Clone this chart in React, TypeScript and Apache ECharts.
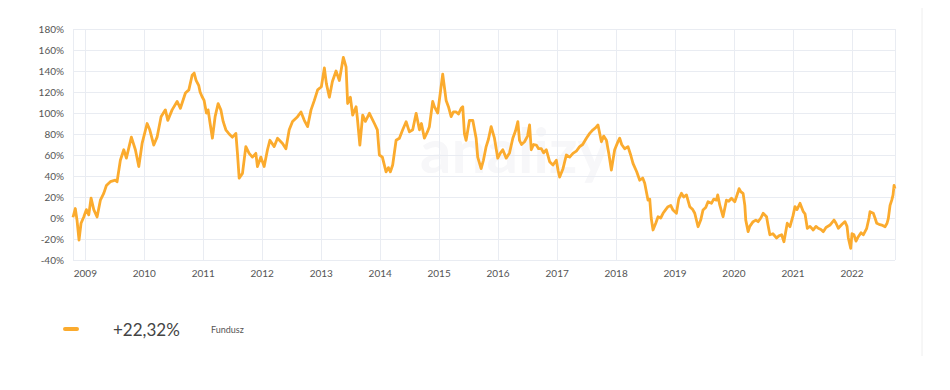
import React, { useEffect, useRef } from "react";
import * as echarts from "echarts";

// Time positions as decimal years, and fund return (%)
const years: number[] = [
  2008.791, 2008.830, 2008.859, 2008.893, 2008.927, 2008.973, 2009.017, 2009.058, 2009.097, 2009.143,
  2009.199, 2009.255, 2009.312, 2009.357, 2009.424, 2009.509, 2009.538, 2009.594, 2009.652, 2009.696,
  2009.781, 2009.849, 2009.907, 2009.963, 2010.048, 2010.093, 2010.161, 2010.217, 2010.285, 2010.358,
  2010.399, 2010.472, 2010.557, 2010.613, 2010.698, 2010.756, 2010.812, 2010.846, 2010.879, 2010.925,
  2010.947, 2010.981, 2011.015, 2011.054, 2011.083, 2011.117, 2011.156, 2011.202, 2011.253, 2011.299,
  2011.338, 2011.384, 2011.440, 2011.496, 2011.554, 2011.581, 2011.610, 2011.666, 2011.723, 2011.779,
  2011.835, 2011.893, 2011.920, 2011.978, 2012.034, 2012.090, 2012.131, 2012.204, 2012.260, 2012.345,
  2012.402, 2012.458, 2012.514, 2012.599, 2012.657, 2012.713, 2012.769, 2012.827, 2012.883, 2012.939,
  2013.002, 2013.053, 2013.087, 2013.138, 2013.189, 2013.251, 2013.307, 2013.341, 2013.375, 2013.421,
  2013.448, 2013.494, 2013.533, 2013.591, 2013.613, 2013.655, 2013.703, 2013.749, 2013.817, 2013.902,
  2013.952, 2013.986, 2014.037, 2014.100, 2014.139, 2014.173, 2014.212, 2014.270, 2014.326, 2014.382,
  2014.440, 2014.496, 2014.552, 2014.610, 2014.666, 2014.700, 2014.750, 2014.801, 2014.835, 2014.891,
  2014.920, 2014.976, 2015.022, 2015.061, 2015.119, 2015.158, 2015.204, 2015.243, 2015.289, 2015.328,
  2015.374, 2015.401, 2015.430, 2015.458, 2015.515, 2015.571, 2015.628, 2015.655, 2015.713, 2015.752,
  2015.798, 2015.837, 2015.883, 2015.939, 2015.995, 2016.041, 2016.080, 2016.138, 2016.194, 2016.250,
  2016.296, 2016.335, 2016.363, 2016.397, 2016.448, 2016.499, 2016.533, 2016.562, 2016.601, 2016.647,
  2016.686, 2016.732, 2016.771, 2016.817, 2016.873, 2016.929, 2016.986, 2017.017, 2017.043, 2017.099,
  2017.156, 2017.212, 2017.268, 2017.331, 2017.382, 2017.433, 2017.496, 2017.552, 2017.608, 2017.654,
  2017.693, 2017.751, 2017.790, 2017.836, 2017.875, 2017.920, 2017.976, 2018.027, 2018.061, 2018.095,
  2018.146, 2018.202, 2018.248, 2018.287, 2018.350, 2018.401, 2018.452, 2018.486, 2018.542, 2018.571,
  2018.596, 2018.627, 2018.673, 2018.712, 2018.757, 2018.797, 2018.842, 2018.881, 2018.927, 2018.966,
  2019.024, 2019.063, 2019.109, 2019.148, 2019.194, 2019.250, 2019.301, 2019.335, 2019.391, 2019.436,
  2019.475, 2019.521, 2019.560, 2019.618, 2019.657, 2019.703, 2019.725, 2019.759, 2019.815, 2019.873,
  2019.912, 2019.958, 2020.014, 2020.065, 2020.087, 2020.116, 2020.155, 2020.184, 2020.200, 2020.240,
  2020.268, 2020.324, 2020.370, 2020.409, 2020.455, 2020.494, 2020.552, 2020.574, 2020.608, 2020.659,
  2020.722, 2020.761, 2020.807, 2020.846, 2020.880, 2020.902, 2020.948, 2020.999, 2021.033, 2021.067,
  2021.118, 2021.174, 2021.203, 2021.242, 2021.288, 2021.343, 2021.389, 2021.428, 2021.474, 2021.513,
  2021.559, 2021.627, 2021.695, 2021.729, 2021.768, 2021.831, 2021.882, 2021.916, 2021.938, 2021.979,
  2022.000, 2022.034, 2022.068, 2022.107, 2022.153, 2022.192, 2022.250, 2022.289, 2022.306, 2022.362,
  2022.391, 2022.420, 2022.459, 2022.505, 2022.561, 2022.595, 2022.617, 2022.646, 2022.675, 2022.697,
  2022.714, 2022.730,
];

const values: number[] = [
  0.7, 9, -2, -21, -5, 1, 8, 3, 19, 8,
  1, 17, 23.5, 31, 34.6, 36, 34.5, 55, 65, 57,
  77, 65, 49, 71, 90, 84, 69.5, 77, 96.5, 103,
  93, 103, 111, 104.5, 119, 122, 136, 138, 131, 126,
  120, 115.5, 112, 100, 103, 90, 76, 96.5, 109, 103,
  92, 84, 80, 77, 80.6, 61.6, 38, 42.5, 68, 61.6,
  58, 61.6, 49, 58, 49, 65, 74, 68, 76, 71,
  66, 84, 92, 96.5, 101, 93, 87, 103, 112, 122,
  125, 143, 128, 115, 130, 140, 131, 142, 153, 144,
  109, 115, 98, 106, 95, 69.5, 98, 92, 99.7, 90,
  84, 60, 58, 44, 48, 44, 50.5, 74, 76, 84,
  91.7, 82, 84, 99.7, 84, 90, 76, 82, 87, 111,
  106, 100, 120, 137, 112, 106, 96.5, 101, 101, 99,
  104.5, 106, 80, 74, 93, 93, 76, 58, 47, 55,
  68, 75, 87, 76, 57, 62, 65, 57, 62, 76,
  83, 91.7, 74, 70, 72.6, 78, 88.6, 65, 70, 69.5,
  66, 66, 62, 65, 53.6, 50.5, 55, 45, 39, 47,
  60, 58, 61.6, 64, 68, 70, 76, 80.6, 84, 86,
  88.6, 72.6, 78, 74, 62, 45.7, 65, 72, 76, 70,
  66, 68, 60, 52, 44, 36, 38, 33, 17, 18,
  0, -11.4, -5, 1.2, 0, 4.5, 8, 10.8, 12, 7.6,
  4.5, 18, 23.5, 20, 22, 10.8, 8, 4.5, -8.3, -2,
  7.6, 10, 15.5, 14, 18, 17, 22, 12.4, 1.2, 17,
  16, 18.8, 15.5, 24, 28, 25, 23.5, 12, -2, -13,
  -8, -3.5, -2, -3.5, 0, 4.5, 1.2, -6, -16, -15,
  -19, -17, -16, -22.6, -12, -5, -8.3, 2, 10.8, 8,
  14, 6, 4, -9.8, -8, -11.4, -8, -9.8, -11, -13,
  -9, -6.7, -2, -5, -9.8, -6, -3.5, -8, -19, -29,
  -15, -16, -22, -17.8, -14, -16, -9.8, 0, 6, 4.5,
  0, -5, -6, -6.7, -8.3, -5, -0.3, 12, 17, 22,
  31, 28,
];

const yTicks = { min: -40, max: 180, step: 20 };
const legendValue = "+22,32%";
const legendName = "Fundusz";
const lineColor = "#FBAB2E";

function yearToTs(y: number): number {
  const Y = Math.floor(y);
  const start = Date.UTC(Y, 0, 1);
  const end = Date.UTC(Y + 1, 0, 1);
  return start + (y - Y) * (end - start);
}

export default function App() {
  const ref = useRef<HTMLDivElement>(null);
  useEffect(() => {
    if (!ref.current) return;
    const chart = echarts.init(ref.current, undefined, { renderer: "svg" });
    const data = years.map((y, i) => [yearToTs(y), values[i]]);
    const YEAR = 365.25 * 24 * 3600 * 1000;
    chart.setOption({
      animation: false,
      backgroundColor: "#ffffff",
      grid: { left: 73, right: 55, top: 29, bottom: 130, containLabel: false },
      xAxis: {
        type: "time",
        min: data[0][0],
        max: data[data.length - 1][0],
        minInterval: YEAR,
        maxInterval: YEAR,
        axisLine: { show: false },
        axisTick: { show: false },
        splitLine: { show: true, lineStyle: { color: "#e9ecf2", width: 1 } },
        axisLabel: {
          formatter: "{yyyy}",
          color: "#555",
          fontFamily: "Lato",
          fontSize: 10,
          margin: 8,
          showMinLabel: false,
          showMaxLabel: false,
        },
      },
      yAxis: {
        type: "value",
        min: yTicks.min,
        max: yTicks.max,
        interval: yTicks.step,
        axisLine: { show: false },
        axisTick: { show: false },
        splitLine: { lineStyle: { color: "#e9ecf2", width: 1 } },
        axisLabel: {
          formatter: "{value}%",
          color: "#555",
          fontFamily: "Lato",
          fontSize: 10,
          margin: 9,
        },
      },
      graphic: [
        {
          type: "text",
          left: 420,
          top: 118,
          z: -1,
          silent: true,
          style: { text: "analizy", fontSize: 62, fontFamily: "Lato", fontWeight: "bold", fill: "#f7f7f9" },
        },
        {
          type: "line",
          shape: { x1: 922, y1: 0, x2: 922, y2: 356 },
          style: { stroke: "#eeeeee", lineWidth: 1 },
        },
        {
          type: "line",
          shape: { x1: 65, y1: 329, x2: 77, y2: 329 },
          style: { stroke: lineColor, lineWidth: 4, lineCap: "round" },
        },
        {
          type: "text",
          x: 113,
          y: 329,
          style: {
            text: legendValue,
            fontSize: 17,
            fontFamily: "Lato",
            fill: "#444",
            verticalAlign: "middle",
          },
        },
        {
          type: "text",
          x: 211,
          y: 329,
          style: {
            text: legendName,
            fontSize: 9,
            fontFamily: "Lato",
            fill: "#555",
            verticalAlign: "middle",
          },
        },
      ],
      series: [
        {
          type: "line",
          data,
          showSymbol: false,
          symbol: "none",
          lineStyle: { color: lineColor, width: 2.8, join: "round" },
          itemStyle: { color: lineColor },
        },
      ],
    });
    return () => chart.dispose();
  }, []);
  return <div ref={ref} style={{ width: 950, height: 390, margin: -8 }} />;
}
